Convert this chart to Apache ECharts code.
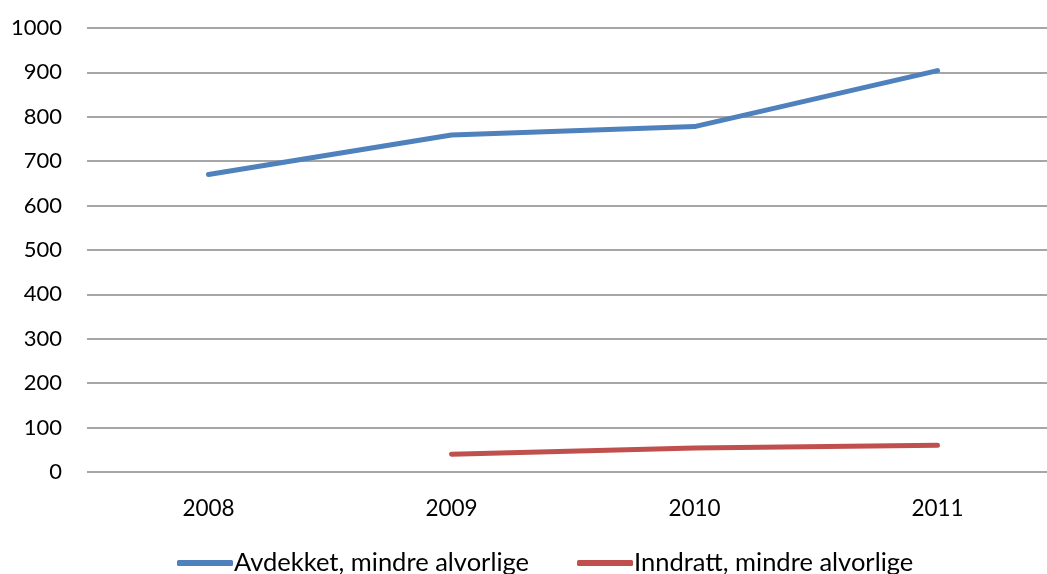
<!DOCTYPE html>
<html><head><meta charset="utf-8">
<script src="https://cdn.jsdelivr.net/npm/echarts@6/dist/echarts.min.js"></script>
<style>html,body{margin:0;padding:0;background:#fff}#c{width:1047px;height:574px}</style>
</head><body><div id="c"></div>
<script>
const categories = ['2008','2009','2010','2011'];
const avdekket = [670, 759, 778, 904];
const inndratt = [null, 40, 54, 60];
const seriesNames = ['Avdekket, mindre alvorlige','Inndratt, mindre alvorlige'];
const chart = echarts.init(document.getElementById('c'));
const font = 'Lato, "Open Sans", sans-serif';
chart.setOption({
  animation:false,
  grid:{left:87, width:972, top:28, bottom:102, containLabel:false, outerBoundsMode:'none'},
  legend:{bottom:-7, left:172, itemWidth:56, itemHeight:6, itemGap:48,
    icon:'roundRect',
    textStyle:{fontFamily:font, fontSize:25.5, color:'#000', padding:[0,0,0,-4]},
    data:seriesNames},
  xAxis:{type:'category', data:categories, boundaryGap:true,
    axisLine:{show:false}, axisTick:{show:false},
    axisLabel:{fontFamily:font, fontSize:22.5, color:'#000', margin:25}},
  yAxis:{type:'value', min:0, max:1000, interval:100,
    axisLine:{show:false}, axisTick:{show:false},
    axisLabel:{fontFamily:font, fontSize:22, color:'#000', margin:25,
      formatter:function(v){return String(v);}},
    splitLine:{lineStyle:{color:'#888', width:1.5}}},
  series:[
    {name:seriesNames[0], type:'line', data:avdekket, showSymbol:false, symbol:'none',
     lineStyle:{color:'#4F81BD', width:5, cap:'round'}, itemStyle:{color:'#4F81BD'}},
    {name:seriesNames[1], type:'line', data:inndratt, showSymbol:false, symbol:'none',
     lineStyle:{color:'#C0504D', width:5, cap:'round'}, itemStyle:{color:'#C0504D'}}
  ]
});
</script></body></html>
